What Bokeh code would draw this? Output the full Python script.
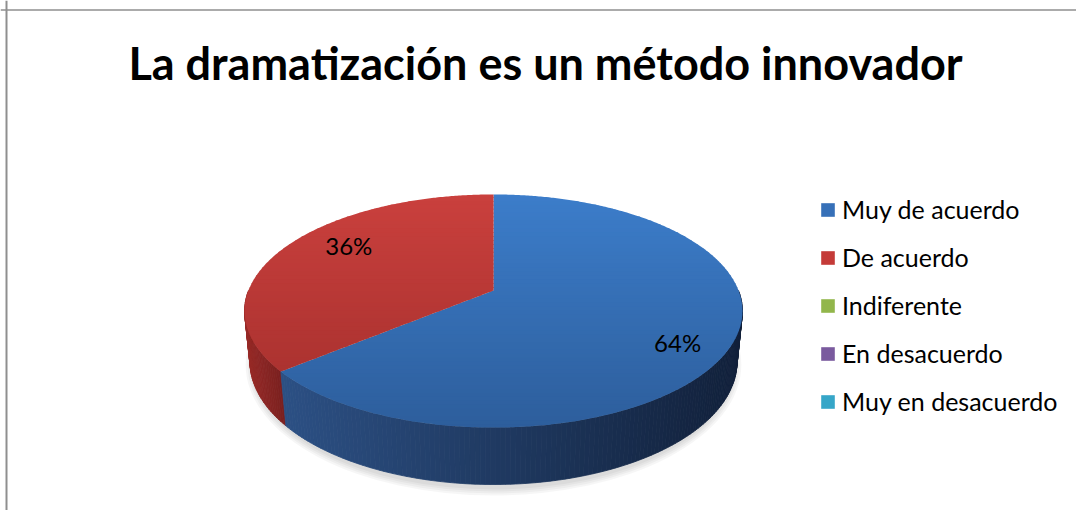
import numpy as np
from bokeh.plotting import figure
from bokeh.models import ColumnDataSource, Range1d, Legend, LegendItem, Span
from bokeh.core.properties import value
from bokeh.embed import file_html
from bokeh.resources import INLINE

# ---------------- data ----------------
title_text = "La dramatización es un método innovador"
categories = ["Muy de acuerdo", "De acuerdo", "Indiferente", "En desacuerdo", "Muy en desacuerdo"]
percentages = [64, 36, 0, 0, 0]

# ---------------- style ----------------
top_light = ["#3c7dca", "#ca403d", "#9bbb59", "#8064a2", "#4bacc6"]
top_dark = ["#2d5e9c", "#a22e2c", "#77933c", "#5f4a7b", "#31859c"]
wall_left = ["#2c5084", "#982a27", "#6f8a35", "#54406e", "#2a7287"]
wall_right = ["#11203a", "#7a201f", "#48591f", "#33264a", "#1a4a57"]
legend_colors = ["#3670b8", "#c43b38", "#92b64b", "#7a5a9e", "#36a6c8"]
FONT = "Lato"

W, HGT = 1076, 510

# projection of a tilted disc (perspective), screen pixels
CX, CY = 493.0, 290.0
F, D = 1235.0, 5.04
SA, CA = 0.461, 0.887
H = 0.235


def proj(u, v, h):
    yc = v * SA + h * CA
    zc = v * CA - h * SA + D
    return CX + F * u / zc, CY - F * yc / zc


def rim(phi, h=0.0):
    return proj(np.sin(phi), np.cos(phi), h)


def hex2rgb(c):
    c = c.lstrip("#")
    return np.array([int(c[i:i + 2], 16) for i in (0, 2, 4)], dtype=float)


def mix(c1, c2, t):
    t = min(max(t, 0.0), 1.0)
    r = hex2rgb(c1) * (1 - t) + hex2rgb(c2) * t
    return "#%02x%02x%02x" % tuple(int(round(x)) for x in r)


def intersect(a, b, yv):
    t = (yv - a[1]) / (b[1] - a[1])
    return (a[0] + t * (b[0] - a[0]), yv)


def clip(poly, yv, keep_ge):
    out = []
    n = len(poly)
    for i in range(n):
        cur, prev = poly[i], poly[i - 1]
        cin = cur[1] >= yv if keep_ge else cur[1] <= yv
        pin = prev[1] >= yv if keep_ge else prev[1] <= yv
        if cin:
            if not pin:
                out.append(intersect(prev, cur, yv))
            out.append(cur)
        elif pin:
            out.append(intersect(prev, cur, yv))
    return out


# ---------------- figure ----------------
p = figure(width=W, height=HGT, x_range=Range1d(0, W), y_range=Range1d(HGT, 0),
           output_backend="svg", toolbar_location=None, x_axis_type=None, y_axis_type=None,
           min_border=0, outline_line_color=None, background_fill_color="white",
           border_fill_color="white")
p.grid.visible = False

# chart frame (left and top border)
p.add_layout(Span(location=6, dimension="height", line_color="#8f8f8f", line_width=2))
p.add_layout(Span(location=9.5, dimension="width", line_color="#8f8f8f", line_width=1.5))

total = float(sum(percentages))
fracs = [v / total for v in percentages]
starts = np.cumsum([0.0] + fracs[:-1]) * 2 * np.pi
ends = np.cumsum(fracs) * 2 * np.pi

# ---- soft shadow under the pie ----
by_back = rim(0.0, -H)[1]
by_front = rim(np.pi, -H)[1]
bw = 2 * (rim(np.pi / 2, -H)[0] - CX)
bh = by_front - by_back
for k in range(4):
    p.ellipse(x=[CX], y=[0.5 * (by_back + by_front) + 3], width=bw + 4 + 4 * k,
              height=bh + 4 + 4 * k, fill_color="#000000", fill_alpha=0.035, line_color=None)

# ---- side walls (front half), painter's order ----
wall = {"xs": [], "ys": [], "c": [], "depth": []}
for i, f in enumerate(fracs):
    if f <= 0:
        continue
    a0 = max(starts[i], np.pi / 2)
    a1 = min(ends[i], 3 * np.pi / 2)
    if a1 <= a0:
        continue
    n = max(2, int(np.degrees(a1 - a0)) + 1)
    ph = np.linspace(a0, a1, n + 1)
    xs_all = [rim(q)[0] for q in ph]
    xmin, xmax = min(xs_all), max(xs_all)
    for k in range(n):
        pa, pb = ph[k], ph[k + 1]
        ta, tb = rim(pa), rim(pb)
        ba, bb = rim(pa, -H), rim(pb, -H)
        xm = 0.5 * (ta[0] + tb[0])
        t = (xm - xmin) / (xmax - xmin) if xmax > xmin else 0.0
        wall["xs"].append([ta[0], tb[0], bb[0], ba[0]])
        wall["ys"].append([ta[1], tb[1], bb[1], ba[1]])
        wall["c"].append(mix(wall_left[i], wall_right[i], t))
        wall["depth"].append(np.cos(0.5 * (pa + pb)))
order = np.argsort(wall["depth"])[::-1]
wsrc = ColumnDataSource({k: [wall[k][j] for j in order] for k in ("xs", "ys", "c")})
p.patches("xs", "ys", source=wsrc, fill_color="c", line_color="c", line_width=0.8)

# ---- top faces with vertical gradient ----
ytop = rim(0.0)[1]
ybot = rim(np.pi)[1]
nb = 60
edges = np.linspace(ytop - 1, ybot + 1, nb + 1)
top = {"xs": [], "ys": [], "c": []}
for i, f in enumerate(fracs):
    if f <= 0:
        continue
    ph = np.linspace(starts[i], ends[i], max(3, int(np.degrees(ends[i] - starts[i]) * 2)))
    poly = [(CX, CY)] + [rim(q) for q in ph]
    for b in range(nb):
        y0, y1 = edges[b] - 0.4, edges[b + 1] + 0.4
        piece = clip(clip(poly, y0, True), y1, False)
        if len(piece) < 3:
            continue
        t = (0.5 * (edges[b] + edges[b + 1]) - ytop) / (ybot - ytop)
        top["xs"].append([pt[0] for pt in piece])
        top["ys"].append([pt[1] for pt in piece])
        top["c"].append(mix(top_light[i], top_dark[i], t))
p.patches("xs", "ys", source=ColumnDataSource(top), fill_color="c", line_color=None)

# ---- data labels (inside end) ----
lab = {"x": [], "y": [], "text": [], "align": [], "xo": []}
for i, f in enumerate(fracs):
    if f <= 0:
        continue
    mid = 0.5 * (starts[i] + ends[i])
    x, y = rim(mid)
    right = np.sin(mid) > 0
    lab["x"].append(x)
    lab["y"].append(y)
    lab["text"].append(f"{percentages[i]:.0f}%")
    lab["align"].append("right" if right else "left")
    lab["xo"].append(-32 if right else 38)
p.text("x", "y", text="text", source=ColumnDataSource(lab), text_align="align", x_offset="xo",
       text_baseline="middle", text_font=value(FONT), text_font_size="24px", text_color="#000000")

# ---- title ----
p.text(x=[545], y=[62], text=[title_text], text_font=value(FONT), text_font_style="bold",
       text_font_size="45px", text_align="center", text_baseline="middle", text_color="#000000")

# ---- legend ----
items = []
for i, cat in enumerate(categories):
    r = p.quad(left=np.array([np.nan]), right=np.array([np.nan]), top=np.array([np.nan]),
               bottom=np.array([np.nan]), fill_color=legend_colors[i], line_color=None)
    items.append(LegendItem(label=cat, renderers=[r]))
legend = Legend(items=items, location=(819, 94), glyph_width=17, glyph_height=17,
                label_text_font=FONT, label_text_font_size="25px", label_text_color="#000000",
                label_height=24, spacing=18, padding=0, margin=0, label_standoff=6,
                border_line_color=None, background_fill_alpha=0)
p.add_layout(legend)

open("out.html", "w").write(file_html(p, INLINE))
